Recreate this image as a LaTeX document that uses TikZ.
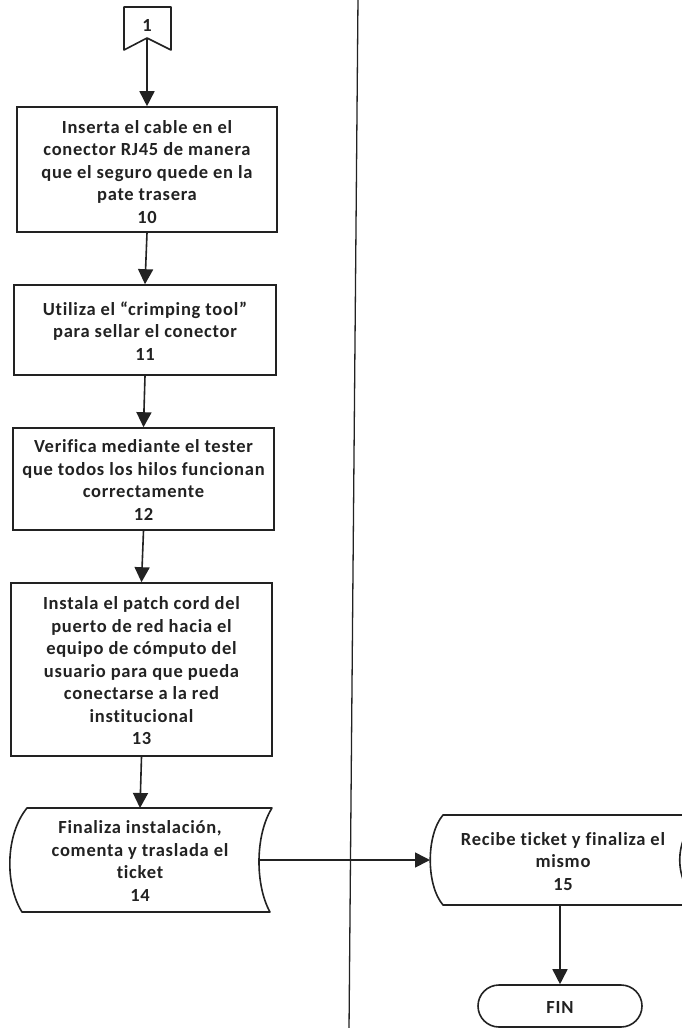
\documentclass[tikz,border=0pt]{standalone}
\usepackage{fontspec}
\setmainfont{Carlito}
\newfontfamily\diafont[LetterSpace=4,Ligatures=NoCommon]{Carlito}
\usetikzlibrary{arrows.meta}
\definecolor{ink}{HTML}{222222}
\tikzset{
  x=1pt, y=-1pt,
  stepbox/.style={draw=ink, line width=1.6pt, rectangle, inner sep=0pt, align=center},
  txt/.style={align=center, text=ink, font=\diafont\fontsize{18.5}{22.5}\selectfont\bfseries},
  flow/.style={draw=ink, line width=1.6pt, -{Triangle[width=15pt,length=15pt]}},
  shapeline/.style={draw=ink, line width=1.6pt, line join=round},
}
\begin{document}
\begin{tikzpicture}
\useasboundingbox (0,0) rectangle (682,1028);
\clip (0,0) rectangle (682,1028);
\fill[white] (0,0) rectangle (682,1028);

% swimlane divider
\draw[ink, line width=1.3pt] (358,-2) -- (349,1030);

% off-page connector 1
\draw[shapeline] (124,7) -- (171,7) -- (171,50) -- (147,38) -- (124,50) -- cycle;
\node[txt] (c1) at (147,25) {1};
\coordinate (c1b) at (147,38);

% step boxes
\node[stepbox, minimum width=260pt, minimum height=125pt] (b10) at (147,169.5) {};
\node[txt] at (147,172) {Inserta el cable en el\\conector RJ45 de manera\\que el seguro quede en la\\pate trasera\\10};

\node[stepbox, minimum width=262pt, minimum height=90pt] (b11) at (145,330) {};
\node[txt] at (145,331) {Utiliza el “crimping tool”\\para sellar el conector\\11};

\node[stepbox, minimum width=261pt, minimum height=102pt] (b12) at (143.5,479) {};
\node[txt] at (143.5,480) {Verifica mediante el tester\\que todos los hilos funcionan\\correctamente\\12};

\node[stepbox, minimum width=261pt, minimum height=173pt] (b13) at (141.5,669.5) {};
\node[txt] at (141.5,671) {Instala el patch cord del\\puerto de red hacia el\\equipo de cómputo del\\usuario para que pueda\\conectarse a la red\\institucional\\13};

% stored-data shape 14
\draw[shapeline] (27,808) -- (272,808) .. controls (255,835) and (255,885) .. (270,912)
  -- (22,912) .. controls (5,885) and (5,835) .. (27,808) -- cycle;
\node[txt] (s14) at (140,861) {Finaliza instalación,\\comenta y traslada el\\ticket\\14};
\coordinate (s14top) at (140,808);
\coordinate (s14r) at (258,860);

% stored-data shape 15
\draw[shapeline] (443,815) -- (700,815) .. controls (673,840) and (673,880) .. (700,905)
  -- (443,905) .. controls (426,885) and (426,835) .. (443,815) -- cycle;
\node[txt] (s15) at (563,861.5) {Recibe ticket y finaliza el\\mismo\\15};
\coordinate (s15l) at (430,860);
\coordinate (s15b) at (560,905);

% terminator
\node[draw=ink, line width=1.6pt, rounded corners=21pt, minimum width=164pt, minimum height=42pt, inner sep=0pt] (fin) at (560,1006) {};
\node[txt] at (560,1007) {FIN};

% connectors
\draw[flow] (c1b) -- (b10.north);
\draw[flow] (b10.south) -- (b11.north);
\draw[flow] (b11.south) -- (b12.north);
\draw[flow] (b12.south) -- (b13.north);
\draw[flow] (b13.south) -- (s14top);
\draw[flow] (s14r) -- (s15l);
\draw[flow] (s15b) -- (fin.north);
\end{tikzpicture}
\end{document}
